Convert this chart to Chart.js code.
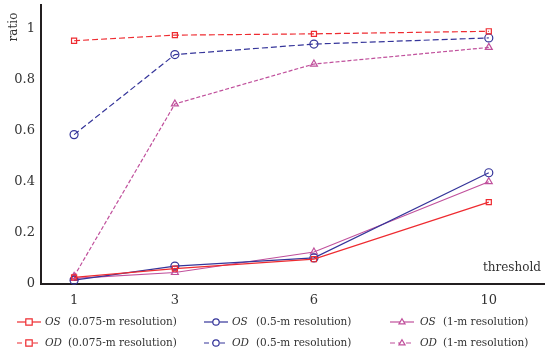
<!DOCTYPE html>
<html>
<head>
<meta charset="utf-8">
<script src="https://cdn.jsdelivr.net/npm/chart.js"></script>
<style>
  html, body { margin: 0; padding: 0; background: #fff; }
  #wrap { width: 550px; height: 354px; }
</style>
</head>
<body>
<div id="wrap"><canvas id="ratioChart" width="550" height="354"></canvas></div>
<script>
// data
const thresholds = [1, 3, 6, 10];
const yTicks = [0, 0.2, 0.4, 0.6, 0.8, 1];

const osFine   = [0.026, 0.060, 0.097, 0.320];
const osMid    = [0.015, 0.070, 0.102, 0.435];
const osCoarse = [0.022, 0.045, 0.125, 0.400];
const odFine   = [0.951, 0.973, 0.978, 0.988];
const odMid    = [0.584, 0.897, 0.938, 0.962];
const odCoarse = [0.030, 0.704, 0.860, 0.925];

const tags = ["OS", "OS", "OS", "OD", "OD", "OD"];
const descs = ["(0.075-m resolution)", "(0.5-m resolution)", "(1-m resolution)"];

const RED = "#ee2b30";
const BLUE = "#35359a";
const MAGENTA = "#c0509c";
const FONT = "'DejaVu Serif', serif";

// x axis in the figure is not evenly spaced; a mild power transform matches it
const xPower = 0.9;
class PowerScale extends Chart.LinearScale {
  configure() {
    super.configure();
    this._tStart = Math.pow(this.min, xPower);
    this._tRange = Math.pow(this.max, xPower) - this._tStart;
  }
  getPixelForValue(value) {
    return this.getPixelForDecimal((Math.pow(value, xPower) - this._tStart) / this._tRange);
  }
  getValueForPixel(pixel) {
    return Math.pow(this._tStart + this.getDecimalForPixel(pixel) * this._tRange, 1 / xPower);
  }
}
PowerScale.id = "power";
PowerScale.defaults = Chart.LinearScale.defaults;
Chart.register(PowerScale);

function series(values, color, style, radius, dash) {
  return {
    data: thresholds.map((t, i) => ({ x: t, y: values[i] })),
    borderColor: color,
    backgroundColor: "rgba(0,0,0,0)",
    borderWidth: 1.2,
    borderDash: dash,
    pointStyle: style,
    pointRadius: radius,
    pointBorderWidth: 1.2,
    pointBackgroundColor: "rgba(0,0,0,0)",
    pointBorderColor: color,
    tension: 0,
    clip: false
  };
}

const datasets = [
  series(osFine, RED, "rect", 3.6, []),
  series(osMid, BLUE, "circle", 4, []),
  series(osCoarse, MAGENTA, "triangle", 4, []),
  series(odFine, RED, "rect", 3.6, [6, 3]),
  series(odMid, BLUE, "circle", 4, [6, 3]),
  series(odCoarse, MAGENTA, "triangle", 4, [4, 2])
];

// legend layout
const legendLineX = [17, 204, 390];
const legendTagX = [45, 232, 420];
const legendDescX = [68, 256, 443];
const legendRowY = [322, 343];

function drawMarker(ctx, style, x, y, r) {
  ctx.beginPath();
  if (style === "rect") {
    ctx.rect(x - r, y - r, r * 2, r * 2);
  } else if (style === "circle") {
    ctx.arc(x, y, r, 0, Math.PI * 2);
  } else {
    ctx.moveTo(x, y - r);
    ctx.lineTo(x + r * 0.95, y + r * 0.6);
    ctx.lineTo(x - r * 0.95, y + r * 0.6);
    ctx.closePath();
  }
  ctx.fillStyle = "#fff";
  ctx.fill();
  ctx.stroke();
}

const extrasPlugin = {
  id: "extras",
  afterDraw(chart) {
    const ctx = chart.ctx;
    ctx.save();
    ctx.fillStyle = "#333";
    ctx.font = "12px " + FONT;
    ctx.textBaseline = "middle";

    // axis titles
    ctx.textAlign = "right";
    ctx.fillText("threshold", 541, 268);
    ctx.save();
    ctx.translate(14, 27);
    ctx.rotate(-Math.PI / 2);
    ctx.textAlign = "center";
    ctx.fillText("ratio", 0, 0);
    ctx.restore();

    // legend
    chart.data.datasets.forEach((ds, i) => {
      const col = i % 3;
      const y = legendRowY[Math.floor(i / 3)];
      const x0 = legendLineX[col];
      ctx.strokeStyle = ds.borderColor;
      ctx.lineWidth = 1.2;
      ctx.setLineDash(ds.borderDash.length ? [5, 3] : []);
      ctx.beginPath();
      ctx.moveTo(x0, y);
      ctx.lineTo(x0 + 24, y);
      ctx.stroke();
      ctx.setLineDash([]);
      drawMarker(ctx, ds.pointStyle, x0 + 12, y, 3.2);

      ctx.fillStyle = "#333";
      ctx.textAlign = "left";
      ctx.font = "italic 10.5px " + FONT;
      ctx.fillText(tags[i], legendTagX[col], y);
      ctx.font = "10.5px " + FONT;
      ctx.fillText(descs[col], legendDescX[col], y);
    });
    ctx.restore();
  }
};

function noPad(s) {
  s.paddingTop = 0;
  s.paddingBottom = 0;
  s.paddingLeft = 0;
  s.paddingRight = 0;
}

const ctx = document.getElementById("ratioChart").getContext("2d");
new Chart(ctx, {
  type: "line",
  data: { datasets },
  options: {
    responsive: false,
    animation: false,
    layout: { padding: { top: 3, right: 0, bottom: 48, left: 0 } },
    plugins: { legend: { display: false }, tooltip: { enabled: false } },
    scales: {
      x: {
        type: "power",
        min: 0.408,
        max: 11.32,
        grid: { display: false, drawTicks: false },
        border: { display: true, color: "#231f20", width: 2 },
        ticks: { padding: 9, color: "#333", font: { family: FONT, size: 13 } },
        afterBuildTicks: s => { s.ticks = thresholds.map(v => ({ value: v })); },
        afterFit: s => { s.height = 22; noPad(s); }
      },
      y: {
        min: 0,
        max: 1.09,
        grid: { display: false, drawTicks: false },
        border: { display: true, color: "#231f20", width: 2 },
        ticks: {
          padding: 6,
          color: "#333",
          font: { family: FONT, size: 13 },
          callback: v => String(v)
        },
        afterBuildTicks: s => { s.ticks = yTicks.map(v => ({ value: v })); },
        afterFit: s => { s.width = 41; noPad(s); }
      }
    }
  },
  plugins: [extrasPlugin]
});
</script>
</body>
</html>
